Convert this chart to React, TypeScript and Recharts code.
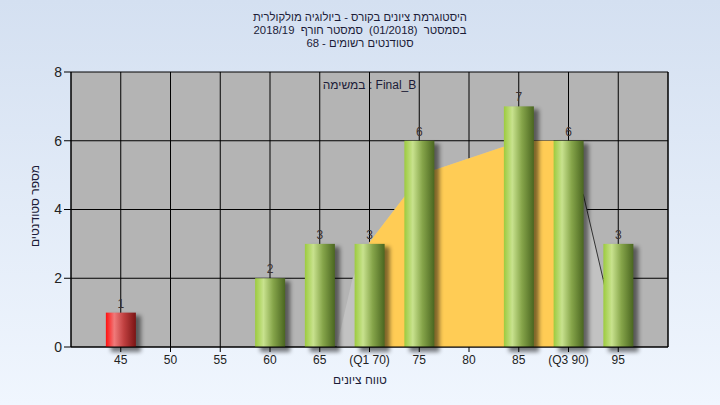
import {
  ComposedChart,
  Bar,
  Area,
  XAxis,
  YAxis,
  CartesianGrid,
  LabelList
} from "recharts";

// histogram: grade bucket -> number of students
const grades = [45, 50, 55, 60, 65, 70, 75, 80, 85, 90, 95];
const counts = [1, 0, 0, 2, 3, 3, 6, 0, 7, 6, 3];
const tickLabels = ["45", "50", "55", "60", "65", "(Q1 70)", "75", "80", "85", "(Q3 90)", "95"];
const failBelow = 55;

// distribution curve behind the bars
const curveX = [66.7, 68.3, 70, 73.5, 76.5, 83.4, 86.5, 88.5, 90, 91.5, 93.5, 95];
const curveY = [0, 2.0, 3.05, 4.37, 5.15, 5.82, 6.0, 6.0, 5.2, 4.42, 1.95, 0];
const q1 = 70;
const q3 = 90;

const yTicks = [0, 2, 4, 6, 8];

const titleLines = [
  "היסטוגרמת ציונים בקורס - ביולוגיה מולקולרית",
  "בסמסטר  (01/2018)  סמסטר חורף  2018/19",
  "סטודנטים רשומים - 68"
];
const legendText = "במשימה : Final_B";
const xTitle = "טווח ציונים";
const yTitle = "מספר סטודנטים";

const barData = grades.map((g, i) => ({ x: g, count: counts[i] }));
const curveData = curveX.map((x, i) => ({ x, y: curveY[i] }));
const iqrData = curveData.filter((d) => d.x >= q1 && d.x <= q3);
const tailData = curveData.filter((d) => d.x >= q3);

const font = "'Liberation Sans', Arial, sans-serif";

const BarShape = (props: any) => {
  const { x, y, width, height, payload } = props;
  if (!height || height <= 0) return null;
  const fill = payload.x < failBelow ? "url(#redBar)" : "url(#greenBar)";
  return (
    <g>
      <rect
        x={x + 5}
        y={y + 3}
        width={width}
        height={height + 2}
        fill="#000"
        opacity={0.5}
        filter="url(#barShadow)"
      />
      <rect x={x} y={y} width={width} height={height} fill={fill} />
    </g>
  );
};

const BarLabel = (props: any) => {
  const { x, y, width, value } = props;
  if (!value) return null;
  return (
    <text
      x={x + width / 2}
      y={y - 5}
      textAnchor="middle"
      fontSize={12}
      fontFamily={font}
      fill="#3a3030"
    >
      {value}
    </text>
  );
};

const App = () => {
  return (
    <div
      style={{
        position: "relative",
        width: 720,
        height: 405,
        background: "linear-gradient(to bottom, #d4e0f1, #f0f6fe)",
        fontFamily: font
      }}
    >
      <style>{"body{margin:0}"}</style>
      <div
        style={{
          position: "absolute",
          top: 11,
          left: 0,
          width: 720,
          textAlign: "center",
          fontSize: 11.3,
          lineHeight: "13px",
          color: "#1c1c38",
          direction: "rtl",
          whiteSpace: "pre"
        }}
      >
        {titleLines.map((t) => (
          <div key={t}>{t}</div>
        ))}
      </div>
      <ComposedChart
        width={720}
        height={405}
        data={barData}
        margin={{ top: 72, right: 22, left: 41, bottom: 33 }}
        style={{ position: "absolute", top: 0, left: 0 }}
      >
        <defs>
          <linearGradient id="greenBar" x1="0" y1="0" x2="1" y2="0">
            <stop offset="0%" stopColor="#9ccb3e" />
            <stop offset="28%" stopColor="#c8e28e" />
            <stop offset="60%" stopColor="#86a54a" />
            <stop offset="100%" stopColor="#4a6620" />
          </linearGradient>
          <linearGradient id="redBar" x1="0" y1="0" x2="1" y2="0">
            <stop offset="0%" stopColor="#ff1010" />
            <stop offset="28%" stopColor="#f07a7a" />
            <stop offset="60%" stopColor="#c04040" />
            <stop offset="100%" stopColor="#7a1414" />
          </linearGradient>
          <filter id="barShadow" x="-50%" y="-20%" width="200%" height="140%">
            <feGaussianBlur stdDeviation="2" />
          </filter>
        </defs>
        <CartesianGrid
          yAxisId="left"
          stroke="#000"
          strokeOpacity={1}
          fill="#b4b4b4"
          fillOpacity={1}
        />
        <XAxis
          dataKey="x"
          type="number"
          domain={[40, 100]}
          ticks={grades}
          interval={0}
          tickFormatter={(v: number) => tickLabels[grades.indexOf(v)]}
          stroke="#000"
          tickSize={5}
          tickMargin={3}
          height={25}
          tick={{ fill: "#222", fontSize: 12, fontFamily: font }}
          allowDataOverflow
        />
        <XAxis
          xAxisId="curve"
          dataKey="x"
          type="number"
          domain={[40, 100]}
          hide
          allowDataOverflow
        />
        <YAxis
          yAxisId="left"
          domain={[0, 8]}
          ticks={yTicks}
          stroke="#000"
          tickSize={7}
          tickMargin={2}
          width={30}
          tick={{ fill: "#222", fontSize: 14, fontFamily: font }}
        />
        <YAxis
          yAxisId="right"
          orientation="right"
          domain={[0, 8]}
          ticks={yTicks}
          stroke="#000"
          tickSize={7}
          tickMargin={2}
          width={30}
          tick={{ fill: "#222", fontSize: 14, fontFamily: font }}
        />
        <Area
          xAxisId="curve"
          yAxisId="left"
          data={curveData}
          dataKey="y"
          type="linear"
          stroke="none"
          fill="#c2c2c2"
          fillOpacity={1}
          isAnimationActive={false}
        />
        <Area
          xAxisId="curve"
          yAxisId="left"
          data={iqrData}
          dataKey="y"
          type="linear"
          stroke="none"
          fill="#ffcc55"
          fillOpacity={1}
          isAnimationActive={false}
        />
        <Area
          xAxisId="curve"
          yAxisId="left"
          data={tailData}
          dataKey="y"
          type="linear"
          stroke="#333"
          strokeWidth={1}
          fill="none"
          dot={false}
          activeDot={false}
          isAnimationActive={false}
        />
        <Bar
          yAxisId="left"
          dataKey="count"
          barSize={30}
          shape={BarShape}
          isAnimationActive={false}
        >
          <LabelList dataKey="count" content={BarLabel} />
        </Bar>
      </ComposedChart>
      <div
        style={{
          position: "absolute",
          top: 78,
          left: 71,
          width: 597,
          textAlign: "center",
          fontSize: 12,
          color: "#1c1c38"
        }}
      >
        {legendText}
      </div>
      <div
        style={{
          position: "absolute",
          top: 373,
          left: 0,
          width: 720,
          textAlign: "center",
          fontSize: 12,
          color: "#1c1c38",
          direction: "rtl"
        }}
      >
        {xTitle}
      </div>
      <div
        style={{
          position: "absolute",
          top: 199,
          left: -15,
          width: 100,
          textAlign: "center",
          fontSize: 12,
          lineHeight: "14px",
          color: "#1c1c38",
          direction: "rtl",
          transform: "rotate(-90deg)"
        }}
      >
        {yTitle}
      </div>
    </div>
  );
};

export default App;
